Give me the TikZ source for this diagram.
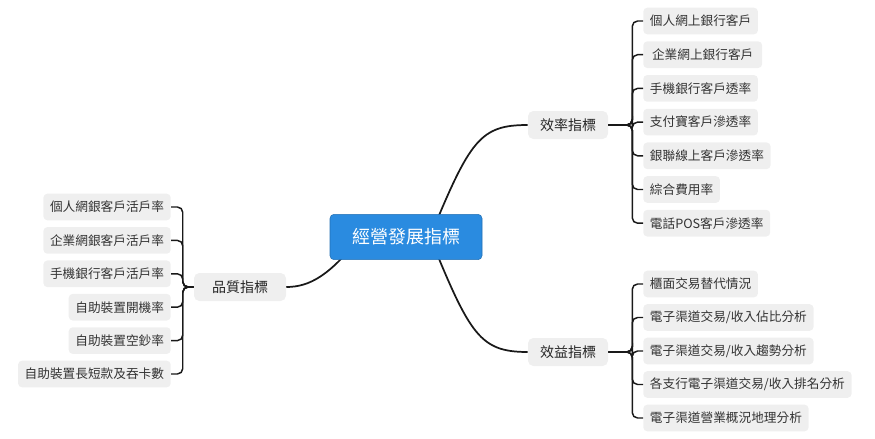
\documentclass[tikz,border=0pt]{standalone}
\usepackage{fontspec}
\setmainfont{Noto Sans CJK TC}
\usetikzlibrary{positioning}
\definecolor{leafgray}{HTML}{EFEFEF}
\definecolor{rootblue}{HTML}{2A8BE0}

\begin{document}
\begin{tikzpicture}[x=0.75pt,y=-0.75pt,
    leaf/.style={fill=leafgray, rounded corners=3pt, inner xsep=5pt, minimum height=20pt, font=\fontsize{9.5}{11}\selectfont, text=black!80},
    branch/.style={fill=leafgray, rounded corners=4pt, minimum width=60pt, minimum height=21pt, font=\fontsize{10.5}{12}\selectfont, text=black!85},
    root/.style={fill=rootblue, draw=rootblue!80!black, rounded corners=3pt, minimum width=114pt, minimum height=34pt, font=\fontsize{13.5}{15}\selectfont, text=white},
    link/.style={line width=1.3pt, black!90},
    brace/.style={line width=1.1pt, black!90, rounded corners=4pt}]
    \useasboundingbox (0,0) rectangle (875,439);

    % links behind the nodes
    \coordinate (rc) at (430,237);
    \coordinate (lc) at (360,237);

    \node[branch] (eff) at (568,125) {效率指標};
    \node[branch] (ben) at (568,352) {效益指標};
    \node[branch, minimum width=69pt] (qual) at (240,287) {品質指標};

    \draw[link] (rc) .. controls (470,140) and (480,125) .. (eff.west);
    \draw[link] (rc) .. controls (470,335) and (480,352) .. (ben.west);
    \draw[link] (lc) .. controls (330,275) and (310,287) .. (qual.east);

    \node[root] (main) at (406,237) {經營發展指標};

    % efficiency leaves
    \foreach \t [count=\i] in {個人網上銀行客戶,{\,企業網上銀行客戶\,},手機銀行客戶透率,支付寶客戶滲透率,銀聯線上客戶滲透率,綜合費用率,電話POS客戶滲透率}{
      \node[leaf, anchor=west] (e\i) at (643,{21+33.7*(\i-1)}) {\t};
      \draw[brace] (eff.east) -- ++(24,0) |- (e\i.west);
    }

    % benefit leaves
    \foreach \t [count=\i] in {櫃面交易替代情況,電子渠道交易/收入佔比分析,電子渠道交易/收入趨勢分析,各支行電子渠道交易/收入排名分析,電子渠道營業概況地理分析}{
      \node[leaf, anchor=west] (b\i) at (643,{284+33.5*(\i-1)}) {\t};
      \draw[brace] (ben.east) -- ++(24,0) |- (b\i.west);
    }

    % quality leaves
    \foreach \t [count=\i] in {個人網銀客戶活戶率,企業網銀客戶活戶率,手機銀行客戶活戶率,自助裝置開機率,自助裝置空鈔率,自助裝置長短款及吞卡數}{
      \node[leaf, anchor=east] (q\i) at (171,{207+33.4*(\i-1)}) {\t};
      \draw[brace] (qual.west) -- ++(-11,0) |- (q\i.east);
    }
\end{tikzpicture}
\end{document}
